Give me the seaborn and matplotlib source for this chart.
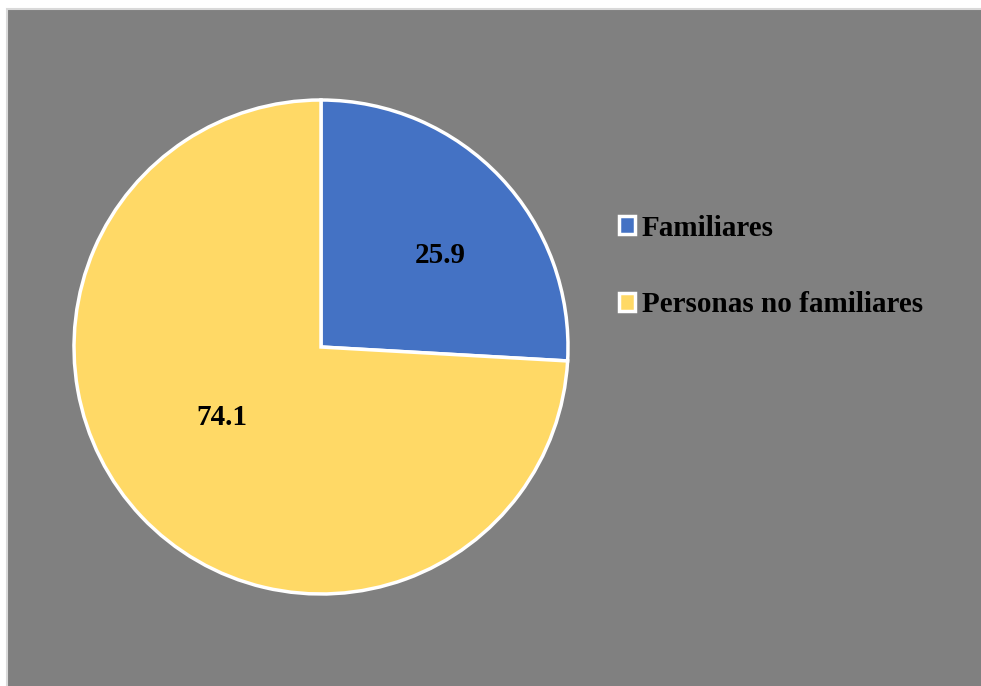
import numpy as np
import matplotlib
matplotlib.use("Agg")
import matplotlib.pyplot as plt
from matplotlib.patches import Rectangle
import seaborn as sns

categories = ["Familiares", "Personas no familiares"]
values = [25.9, 74.1]
colors = ["#4472C4", "#FFD966"]

sns.set_style("white")
plt.rcParams['font.family'] = ['Liberation Serif', 'DejaVu Serif']
plt.rcParams['font.weight'] = 'bold'
plt.rcParams['text.color'] = 'black'

W, H = 981, 686
fig = plt.figure(figsize=(W / 100, H / 100), dpi=100, facecolor="white")

# chart area background
bg = Rectangle((7 / W, -0.01), 1.05 - 7 / W, 1.01 - 9 / H, transform=fig.transFigure,
               facecolor="#808080", edgecolor="#D9D9D9", linewidth=1.5, zorder=-10)
fig.patches.append(bg)

cx, cy, r = 321, 347, 247
ax = fig.add_axes([(cx - r) / W, (H - cy - r) / H, 2 * r / W, 2 * r / H])
ax.set_facecolor("none")
ax.set_zorder(1)
pal = sns.color_palette(colors)
wedges, _ = ax.pie(values, colors=pal, startangle=90, counterclock=False,
                   radius=1.0, wedgeprops=dict(edgecolor="white", linewidth=2.5))
for w in wedges:
    w.set_clip_on(False)
ax.set_xlim(-1.0, 1.0)
ax.set_ylim(-1.0, 1.0)
ax.axis("off")

# data labels placed along each wedge's bisector
label_r = [0.61, 0.49]
label_shift = [-6, -8]
for w, v, lr, sh in zip(wedges, values, label_r, label_shift):
    ang = np.deg2rad((w.theta1 + w.theta2) / 2 + sh)
    ax.text(lr * np.cos(ang), lr * np.sin(ang), f"{v:.1f}", ha="center", va="center",
            fontsize=21, fontweight="bold", color="black")

handles = [Rectangle((0, 0), 1, 1, facecolor=c, edgecolor="white", linewidth=2.5) for c in colors]
leg = fig.legend(handles, categories, loc="upper left", bbox_to_anchor=(604 / W, 1 - 200 / H),
                 frameon=False, fontsize=21, handlelength=0.55, handleheight=0.55,
                 handletextpad=0.25, labelspacing=1.7, borderpad=0)
leg.set_zorder(2)
for t in leg.get_texts():
    t.set_fontweight("bold")
    t.set_color("black")

fig.savefig("out.png", dpi=100, facecolor="white")
